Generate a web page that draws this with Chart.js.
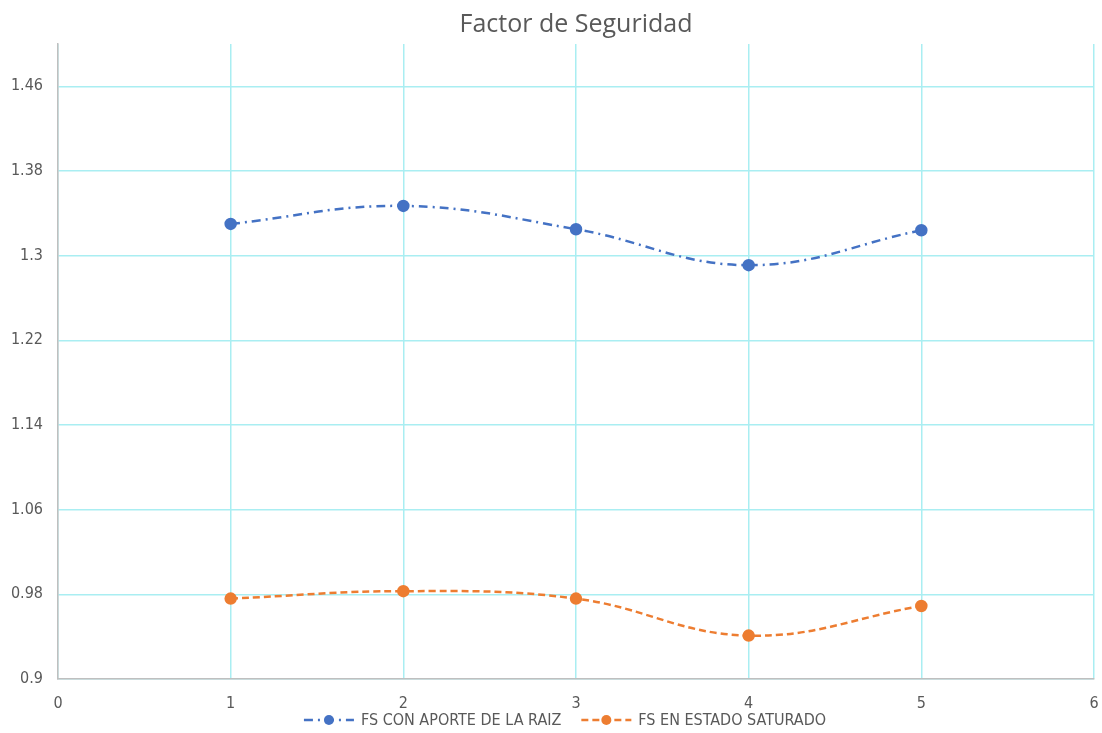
<!DOCTYPE html>
<html>
<head>
<meta charset="utf-8">
<script src="https://cdn.jsdelivr.net/npm/chart.js@4"></script>
<style>
  html, body { margin: 0; padding: 0; background: #fff; }
  #wrap { width: 1102px; height: 733px; }
</style>
</head>
<body>
<div id="wrap"><canvas id="chart"></canvas></div>
<script>
const xValues = [1, 2, 3, 4, 5];
const fsRaiz = [1.330, 1.347, 1.325, 1.291, 1.324];
const fsSaturado = [0.976, 0.983, 0.976, 0.941, 0.969];
const yTicks = [0.9, 0.98, 1.06, 1.14, 1.22, 1.3, 1.38, 1.46];

const fontFam = "'Liberation Sans Narrow', 'DejaVu Sans Condensed', sans-serif";
const tickFont = { family: fontFam, size: 16 };
const titleFont = { family: "'Open Sans', sans-serif", size: 25, weight: 'normal' };

// title centred over the plot area + spreadsheet-style legend (line, dot, text)
const extras = {
  id: 'extras',
  afterDraw(chart) {
    const ctx = chart.ctx;
    const area = chart.chartArea;
    const tb = chart.titleBlock;
    ctx.save();
    ctx.fillStyle = '#595959';
    ctx.font = `${titleFont.size}px ${titleFont.family}`;
    ctx.textAlign = 'center';
    ctx.textBaseline = 'middle';
    ctx.fillText('Factor de Seguridad', (area.left + area.right) / 2, (tb.top + tb.bottom) / 2 + 1);

    // legend
    ctx.font = `16px ${fontFam}`;
    ctx.textAlign = 'left';
    const markW = 50, gapText = 7, gapItem = 20;
    const items = chart.data.datasets.map(ds => ({ ds, w: ctx.measureText(ds.label).width }));
    const total = items.reduce((s, it) => s + markW + gapText + it.w, 0) + gapItem * (items.length - 1);
    let x = (area.left + area.right) / 2 - 11 - total / 2;
    const cy = 720;
    items.forEach(({ ds, w }) => {
      ctx.strokeStyle = ds.borderColor;
      ctx.lineWidth = 2.5;
      ctx.setLineDash(ds.borderDash);
      ctx.beginPath();
      ctx.moveTo(x, cy);
      ctx.lineTo(x + markW, cy);
      ctx.stroke();
      ctx.setLineDash([]);
      ctx.fillStyle = ds.backgroundColor;
      ctx.beginPath();
      ctx.arc(x + markW / 2, cy, 5, 0, Math.PI * 2);
      ctx.fill();
      ctx.fillStyle = '#595959';
      ctx.fillText(ds.label, x + markW + gapText, cy + 1);
      x += markW + gapText + w + gapItem;
    });
    ctx.restore();
  }
};

new Chart(document.getElementById('chart'), {
  type: 'line',
  data: {
    datasets: [
      {
        label: 'FS CON APORTE DE LA RAIZ',
        data: xValues.map((x, i) => ({ x: x, y: fsRaiz[i] })),
        borderColor: '#4472c4',
        backgroundColor: '#4472c4',
        borderWidth: 2.5,
        borderDash: [9, 5, 2, 5],
        pointRadius: 5,
        tension: 0.4,
      },
      {
        label: 'FS EN ESTADO SATURADO',
        data: xValues.map((x, i) => ({ x: x, y: fsSaturado[i] })),
        borderColor: '#ed7d31',
        backgroundColor: '#ed7d31',
        borderWidth: 2.5,
        borderDash: [7, 4],
        pointRadius: 5,
        tension: 0.4,
      },
    ],
  },
  options: {
    responsive: true,
    maintainAspectRatio: false,
    animation: false,
    layout: { padding: { left: 0, right: 8, top: 4, bottom: 24 } },
    plugins: {
      title: {
        display: true,
        text: 'Factor de Seguridad',
        color: 'rgba(0,0,0,0)',
        font: titleFont,
        padding: { top: 2, bottom: 8 },
      },
      legend: { display: false },
      tooltip: { enabled: false },
    },
    scales: {
      x: {
        type: 'linear',
        min: 0,
        max: 6,
        afterFit(axis) {
          axis.height = 30;
          axis.paddingLeft = 0;
          axis.paddingRight = 0;
        },
        ticks: { stepSize: 1, color: '#595959', font: tickFont, padding: 15 },
        grid: { color: '#a9eef2', lineWidth: 1.5, drawTicks: false },
        border: { color: '#bfbfbf', width: 1.5 },
      },
      y: {
        min: 0.9,
        max: 1.5,
        afterBuildTicks(axis) {
          axis.ticks = yTicks.map(v => ({ value: v }));
        },
        afterFit(axis) {
          axis.width = 58;
        },
        ticks: {
          color: '#595959',
          font: tickFont,
          padding: 15,
          callback: v => String(Number(v.toFixed(2))),
        },
        grid: { color: '#a9eef2', lineWidth: 1.5, drawTicks: false },
        border: { color: '#bfbfbf', width: 1.5 },
      },
    },
  },
  plugins: [extras],
});
</script>
</body>
</html>
